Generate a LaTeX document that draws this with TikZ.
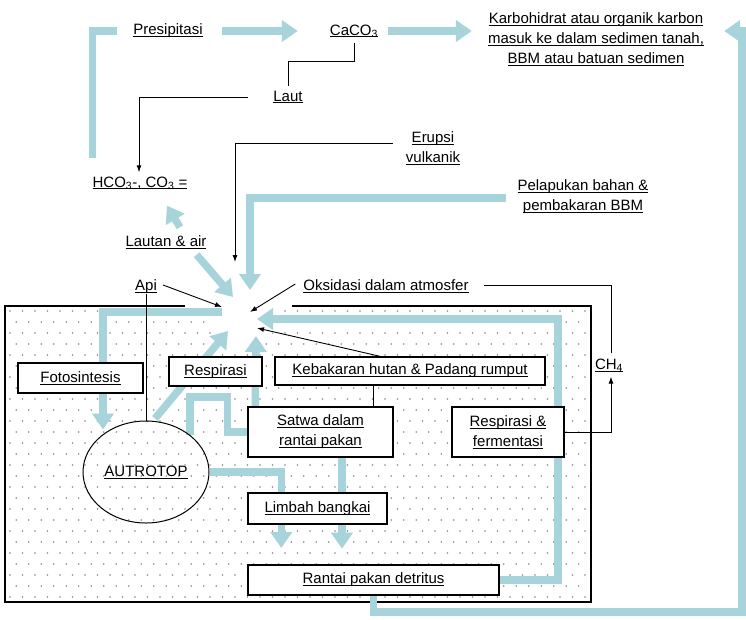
\documentclass[tikz,border=0pt]{standalone}
\usepackage{fontspec}
\setmainfont{Liberation Sans}
\usetikzlibrary{arrows.meta,shapes.geometric,calc}
\definecolor{flow}{RGB}{166,212,218}
\definecolor{dotgray}{RGB}{135,135,135}
\newcommand{\ulx}[1]{\setbox0=\hbox{#1}\rlap{\rule[-2.2pt]{\wd0}{0.8pt}}\box0}
\pgfdeclarelayer{bg}
\pgfdeclarelayer{flows}
\pgfsetlayers{bg,flows,main}

\begin{document}
\begin{tikzpicture}[x=1pt,y=-1pt,
  font=\fontsize{15}{20}\selectfont,
  flowline/.style={draw=flow,line width=7.5pt},
  flowarrow/.style={flowline,-{Triangle[length=16pt,width=21pt]}},
  txt/.style={inner sep=0pt,align=center},
  box/.style={draw,line width=1.4pt,fill=white,inner sep=0pt,align=center},
  link/.style={draw,line width=0.9pt},
  linkarrow/.style={link,-{Latex[length=7pt,width=5pt]}}]

\useasboundingbox (0,0) rectangle (746,619);
\coordinate (hub) at (243,312);
\coordinate (innerturn) at (558,319);
\coordinate (outerbr) at (742,612);

% free-standing labels
\node[txt] (presip) at (168,31) {\ulx{Presipitasi}};
\node[txt] (caco) at (354,31) {\ulx{CaCO\textsubscript{3}}};
\node[txt] (karbo) at (596,39) {\ulx{Karbohidrat atau organik karbon}\\\ulx{masuk ke dalam sedimen tanah,}\\\ulx{BBM atau batuan sedimen}};
\node[txt] (laut) at (288,97) {\ulx{Laut}};
\node[txt] (hco) at (140,183) {\ulx{HCO\textsubscript{3}-, CO\textsubscript{3} =}};
\node[txt] (erupsi) at (433,148) {\ulx{Erupsi}\\\ulx{vulkanik}};
\node[txt] (pelap) at (583,197) {\ulx{Pelapukan bahan \&}\\\ulx{pembakaran BBM}};
\node[txt] (lautan) at (166,242) {\ulx{Lautan \& air}};
\node[txt] (api) at (146,287) {\ulx{Api}};
\node[txt] (oks) at (386,286) {\ulx{Oksidasi dalam atmosfer}};
\node[txt] (ch4) at (609,365) {\ulx{CH\textsubscript{4}}};

% boxed processes
\node[box,minimum width=125pt,minimum height=30pt] (foto) at (80.5,378) {\ulx{Fotosintesis}};
\node[box,minimum width=93pt,minimum height=29pt] (resp) at (215.5,371.5) {\ulx{Respirasi}};
\node[box,minimum width=270pt,minimum height=28pt] (keb) at (410,371) {\ulx{Kebakaran hutan \& Padang rumput}};
\node[box,minimum width=145pt,minimum height=50pt] (satwa) at (320.5,432) {\ulx{Satwa dalam}\\\ulx{rantai pakan}};
\node[box,minimum width=112pt,minimum height=50pt] (respf) at (508,432) {\ulx{Respirasi \&}\\\ulx{fermentasi}};
\node[box,minimum width=139pt,minimum height=31pt] (limbah) at (317.5,508.5) {\ulx{Limbah bangkai}};
\node[box,minimum width=251pt,minimum height=30pt] (rantai) at (373.5,580) {\ulx{Rantai pakan detritus}};
\node[draw,ellipse,line width=1pt,minimum width=126pt,minimum height=102pt,inner sep=0pt] (auto) at (146,472) {\ulx{AUTROTOP}};

% dotted ecosystem field with its frame
\begin{pgfonlayer}{bg}
  \fill[white] (0,0) rectangle (746,619);
  \begin{scope}
    \clip (5,306) rectangle (591,602);
    \foreach \r in {0,...,26}{
      \foreach \c in {0,...,46}{
        \fill[dotgray] ({10+\c*12.5+mod(\r,2)*6.25},{311+\r*11}) circle (0.85pt);
      }
    }
  \end{scope}
  \fill[white] (hub) circle (36pt);
  \draw[line width=1.4pt] (185,306) -- (5,306) -- (5,602) -- (591,602) -- (591,306) -- (292,306);
\end{pgfonlayer}

% carbon flows
\begin{pgfonlayer}{flows}
  \draw[flowline] ($(hco.north west)+(0,-18)$) |- ($(presip.west)+(-16,0)$);
  \draw[flowarrow] ($(presip.east)+(19,0)$) -- ($(caco.west)+(-32,0)$);
  \draw[flowarrow] ($(caco.east)+(10,0)$) -- ($(karbo.west |- caco.east)+(-16,0)$);
  \draw[flowarrow] (rantai.south) |- (outerbr) |- ($(karbo.east |- caco.east)+(20,0)$);
  \draw[flowarrow] ($(lautan.north)+(14,-8)$) -- ($(hco.south)+(27,16)$);
  \draw[flowarrow] ($(lautan.south east)+(-10,6)$) -- ($(hub)+(-10,-15)$);
  \draw[flowarrow] ($(pelap.west)+(-11,1)$) -| ($(hub)+(7,-22)$);
  \draw[flowarrow] ($(hub)+(-21,0)$) -| ($(auto.north)+(-43,9)$);
  \draw[flowarrow] ($(auto.north)+(9,-2)$) -- ($(hub)+(-15,19)$);
  \draw[flowarrow] ($(satwa.north west)+(8,0)$) -- ($(hub)+(13,24)$);
  \draw[flowline] ($(auto.north)+(44,14)$) |- ($(satwa.west)+(-20,-35)$) |- (satwa.west);
  \draw[flowarrow] (auto.east) -| ($(limbah.west)+(34,39.5)$);
  \draw[flowarrow] ($(satwa.south)+(21.5,0)$) -- ($(limbah.south)+(24.5,24)$);
  \draw[flowarrow] (rantai.east) -| (innerturn) -- ($(hub)+(14,7)$);
\end{pgfonlayer}

% thin connectors
\draw[link] ($(caco.south)+(0,5)$) -- ++(0,19) -| ($(laut.north)+(0,-5)$);
\draw[linkarrow] ($(laut.west)+(-25,0)$) -| ($(hco.north)+(-1,-4)$);
\draw[linkarrow] ($(erupsi.west)+(-13,-5)$) -| ($(hub)+(-8,-50)$);
\draw[linkarrow] ($(api.east)+(6,-2)$) -- ($(hub)+(-21,-5)$);
\draw[link] (api.south) -- (auto.north);
\draw[linkarrow] ($(oks.west)+(-8,-2)$) -- ($(hub)+(7,0)$);
\draw[link] ($(oks.east)+(15,-1)$) -| ($(ch4.north)+(2,-5)$);
\draw[linkarrow] (respf.east) -| ($(ch4.south)+(2,5)$);
\draw[linkarrow] ($(keb.north)+(-30,0)$) -- ($(hub)+(14,16)$);
\draw[link] ($(keb.south)+(-37,0)$) -- ($(satwa.north)+(52.5,0)$);
\end{tikzpicture}
\end{document}
